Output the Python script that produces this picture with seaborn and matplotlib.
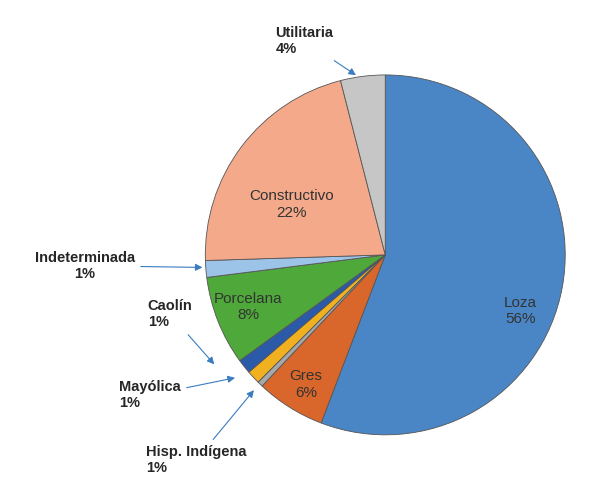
import matplotlib
matplotlib.use("Agg")
import matplotlib.pyplot as plt
import seaborn as sns

sns.set_style("white")
plt.rcParams['font.family'] = ['Liberation Sans', 'DejaVu Sans']

categories = ["Loza", "Gres", "Hisp. Indígena", "Mayólica", "Caolín",
              "Porcelana", "Indeterminada", "Constructivo", "Utilitaria"]
values = [55.8, 6.2, 0.5, 1.2, 1.3, 8.0, 1.5, 21.5, 4.0]
pct_labels = ["56%", "6%", "1%", "1%", "1%", "8%", "1%", "22%", "4%"]
colors = ["#4a86c5", "#d9662a", "#a8a8a8", "#f0b020", "#2a5aa8",
          "#4ea83a", "#9cc3e8", "#f4a98a", "#c6c6c6"]

fig = plt.figure(figsize=(5.9, 4.93), dpi=100)
ax = fig.add_axes([0.348, 0.118, 0.61, 0.73])
ax.pie(values, colors=colors, startangle=90, counterclock=False,
       wedgeprops=dict(edgecolor="#555555", linewidth=0.6))
ax.set_xlim(-1, 1)
ax.set_ylim(-1, 1)

inside = {"Loza": (0.75, -0.31), "Gres": (-0.44, -0.72),
          "Porcelana": (-0.76, -0.29), "Constructivo": (-0.52, 0.28)}
for cat, pct in zip(categories, pct_labels):
    if cat in inside:
        x, y = inside[cat]
        ax.text(x, y, f"{cat}\n{pct}", ha="center", va="center",
                fontsize=11, color="#333333")

outside = {"Utilitaria": ((-0.61, 1.19), (-0.15, 0.99)),
           "Indeterminada": ((-1.67, -0.06), (-1.0, -0.07)),
           "Caolín": ((-1.32, -0.33), (-0.94, -0.62)),
           "Mayólica": ((-1.48, -0.78), (-0.82, -0.68)),
           "Hisp. Indígena": ((-1.33, -1.14), (-0.72, -0.74))}
for cat, pct in zip(categories, pct_labels):
    if cat in outside:
        (tx, ty), (px, py) = outside[cat]
        ax.annotate(f"{cat}\n{pct}", xy=(px, py), xytext=(tx, ty),
                    ha="left" if cat != "Indeterminada" else "center",
                    va="center", fontsize=10.5, fontweight="bold",
                    annotation_clip=False,
                    arrowprops=dict(arrowstyle="-|>", color="#3a7cc0", lw=0.8))

fig.savefig("out.png", dpi=100)
